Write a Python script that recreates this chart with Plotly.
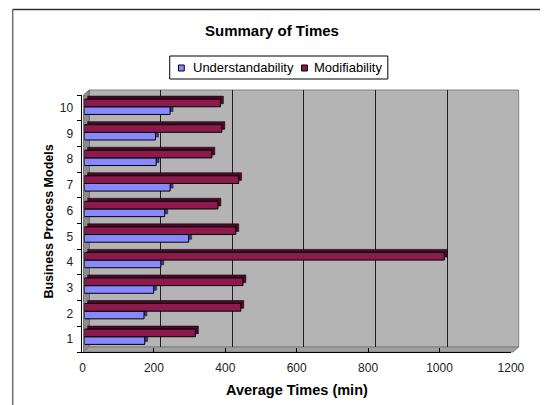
import plotly.graph_objects as go

# ---- data -------------------------------------------------------------
models = [1, 2, 3, 4, 5, 6, 7, 8, 9, 10]
model_labels = ["1", "2", "3", "4", "5", "6", "7", "8", "9", "10"]
understandability = [169, 167, 194, 214, 292, 225, 240, 201, 199, 240]
modifiability = [311, 438, 444, 1008, 424, 374, 432, 357, 385, 381]
x_ticks = [0, 200, 400, 600, 800, 1000, 1200]

# ---- styling -----------------------------------------------------------
W, H = 554, 405
FONT = "Arial, 'Liberation Sans', sans-serif"
UND_COLOR = "#8888FF"
UND_DEPTH = "#3A3A8A"
MOD_COLOR = "#8C1A4C"
MOD_DEPTH = "#480A26"
WALL = "#B4B4B4"


def px(x):
    return x / W


def py(y):
    return 1 - y / H


def dom_x(a, b):
    return [px(a), px(b)]


def dom_y(top, bottom):
    return [py(bottom), py(top)]


def path(points):
    pts = [f"{px(x):.5f},{py(y):.5f}" for x, y in points]
    return "M " + " L ".join(pts) + " Z"


fig = go.Figure()

# empty trace: the back-wall gridlines live on the first (lowest) subplot
fig.add_trace(go.Scatter(x=modifiability, y=models, mode="none",
                         xaxis="x", yaxis="y", showlegend=False,
                         hoverinfo="skip"))

# depth faces of the bars (offset up/right, drawn under the front faces)
fig.add_trace(go.Bar(y=models, x=understandability, orientation="h",
                     marker=dict(color=UND_DEPTH, line=dict(color="#1a1a40", width=0.6)),
                     xaxis="x2", yaxis="y2", showlegend=False, hoverinfo="skip"))
fig.add_trace(go.Bar(y=models, x=modifiability, orientation="h",
                     marker=dict(color=MOD_DEPTH, line=dict(color="#200010", width=0.6)),
                     xaxis="x2", yaxis="y2", showlegend=False, hoverinfo="skip"))

# front faces
fig.add_trace(go.Bar(y=models, x=understandability, orientation="h",
                     name="Understandability",
                     marker=dict(color=UND_COLOR, line=dict(color="black", width=1)),
                     xaxis="x3", yaxis="y3", showlegend=False))
fig.add_trace(go.Bar(y=models, x=modifiability, orientation="h",
                     name="Modifiability",
                     marker=dict(color=MOD_COLOR, line=dict(color="black", width=1)),
                     xaxis="x3", yaxis="y3", showlegend=False))

# empty trace for the front-edge value and category axes
fig.add_trace(go.Scatter(x=modifiability, y=models, mode="none",
                         xaxis="x4", yaxis="y4", showlegend=False,
                         hoverinfo="skip"))

hidden = dict(visible=True, showgrid=False, showline=False, zeroline=False,
              showticklabels=False, ticks="")

shapes = [
    # chart frame (top and left edges; the rest runs past the page)
    dict(type="line", xref="paper", yref="paper", x0=px(10), y0=py(9.5),
         x1=1, y1=py(9.5), line=dict(color="#303030", width=1.5)),
    dict(type="line", xref="paper", yref="paper", x0=px(10), y0=py(9),
         x1=px(10), y1=0, line=dict(color="#707070", width=1.5)),
    # back wall
    dict(type="rect", xref="paper", yref="paper", x0=px(89), y0=py(90),
         x1=px(532), y1=py(347), line=dict(color="#808080", width=1),
         fillcolor=WALL, layer="below"),
    # side wall
    dict(type="path", xref="paper", yref="paper",
         path=path([(83, 95), (89, 90), (89, 347), (83, 352)]),
         line=dict(color="#707070", width=1), fillcolor="#8C8C8C", layer="below"),
    # floor
    dict(type="path", xref="paper", yref="paper",
         path=path([(83, 352), (89, 347), (532, 347), (526, 352)]),
         line=dict(color="#808080", width=1), fillcolor="#A0A0A0", layer="below"),
    # legend box and keys
    dict(type="rect", xref="paper", yref="paper", x0=px(172), y0=py(56),
         x1=px(397), y1=py(79), line=dict(color="black", width=1),
         fillcolor="white", layer="above"),
    dict(type="rect", xref="paper", yref="paper", x0=px(181), y0=py(65),
         x1=px(187), y1=py(71), line=dict(color="black", width=1),
         fillcolor=UND_COLOR, layer="above"),
    dict(type="rect", xref="paper", yref="paper", x0=px(308), y0=py(65),
         x1=px(314), y1=py(71), line=dict(color="black", width=1),
         fillcolor=MOD_COLOR, layer="above"),
]

annotations = [
    dict(text="<b>Summary of Times</b>", x=px(277), y=py(31), xref="paper",
         yref="paper", showarrow=False, xanchor="center", yanchor="middle",
         font=dict(family=FONT, size=15, color="black")),
    dict(text="Understandability", x=px(194), y=py(68), xref="paper",
         yref="paper", showarrow=False, xanchor="left", yanchor="middle",
         font=dict(family=FONT, size=13, color="black")),
    dict(text="Modifiability", x=px(319), y=py(68), xref="paper",
         yref="paper", showarrow=False, xanchor="left", yanchor="middle",
         font=dict(family=FONT, size=13, color="black")),
    dict(text="<b>Average Times (min)</b>", x=px(303), y=py(390), xref="paper",
         yref="paper", showarrow=False, xanchor="center", yanchor="middle",
         font=dict(family=FONT, size=14.5, color="black")),
    dict(text="<b>Business Process Models</b>", x=px(47), y=py(222),
         xref="paper", yref="paper", showarrow=False, textangle=-90,
         xanchor="center", yanchor="middle",
         font=dict(family=FONT, size=12.5, color="black")),
]

fig.update_layout(
    width=W, height=H, autosize=False,
    margin=dict(l=0, r=0, t=0, b=0),
    paper_bgcolor="white",
    plot_bgcolor="rgba(0,0,0,0)",
    barmode="group", bargap=0.4, bargroupgap=0,
    showlegend=False,
    font=dict(family=FONT, size=12, color="black"),
    shapes=shapes,
    annotations=annotations,
    # gridlines on the back wall
    xaxis=dict(domain=dom_x(89, 532), range=[0, 1200], anchor="y",
               tickvals=x_ticks[1:-1], showgrid=True, gridcolor="#1E1E1E",
               gridwidth=1, showline=False, zeroline=False,
               showticklabels=False, ticks=""),
    yaxis=dict(domain=dom_y(90, 347), range=[0.5, 10.5], anchor="x", **hidden),
    # bar depth faces
    xaxis2=dict(domain=dom_x(87, 529), range=[0, 1200], anchor="y2", **hidden),
    yaxis2=dict(domain=dom_y(91, 346.5), range=[0.5, 10.5], anchor="x2", **hidden),
    # front bar faces
    xaxis3=dict(domain=dom_x(84, 526), range=[0, 1200], anchor="y3", **hidden),
    yaxis3=dict(domain=dom_y(94, 349.5), range=[0.5, 10.5], anchor="x3", **hidden),
    # value axis and category axis along the front edges
    xaxis4=dict(domain=dom_x(82, 524), range=[0, 1200], anchor="y4",
                tickvals=x_ticks, ticktext=[str(v) for v in x_ticks],
                ticks="inside", ticklen=4, tickcolor="black",
                showline=True, linecolor="black", linewidth=1,
                showgrid=False, zeroline=False, ticklabelstandoff=5,
                tickfont=dict(family=FONT, size=12, color="#222222")),
    yaxis4=dict(domain=dom_y(95, 352), range=[0.5, 10.5], anchor="x4",
                tickvals=models, ticktext=model_labels, ticks="",
                showline=True, linecolor="black", linewidth=1,
                showgrid=False, zeroline=False, ticklabelstandoff=6,
                minor=dict(tick0=0.5, dtick=1, ticks="outside", ticklen=4,
                           tickcolor="black", showgrid=False),
                tickfont=dict(family=FONT, size=12, color="#222222")),
)

# keep the page itself from scrolling so the figure sits flush at 0,0
page_fix = (
    "document.documentElement.style.overflow='hidden';"
    "document.body.style.overflow='hidden';"
    "document.body.style.margin='0';"
)

fig.write_html("out.html", config={"responsive": False}, post_script=page_fix)
